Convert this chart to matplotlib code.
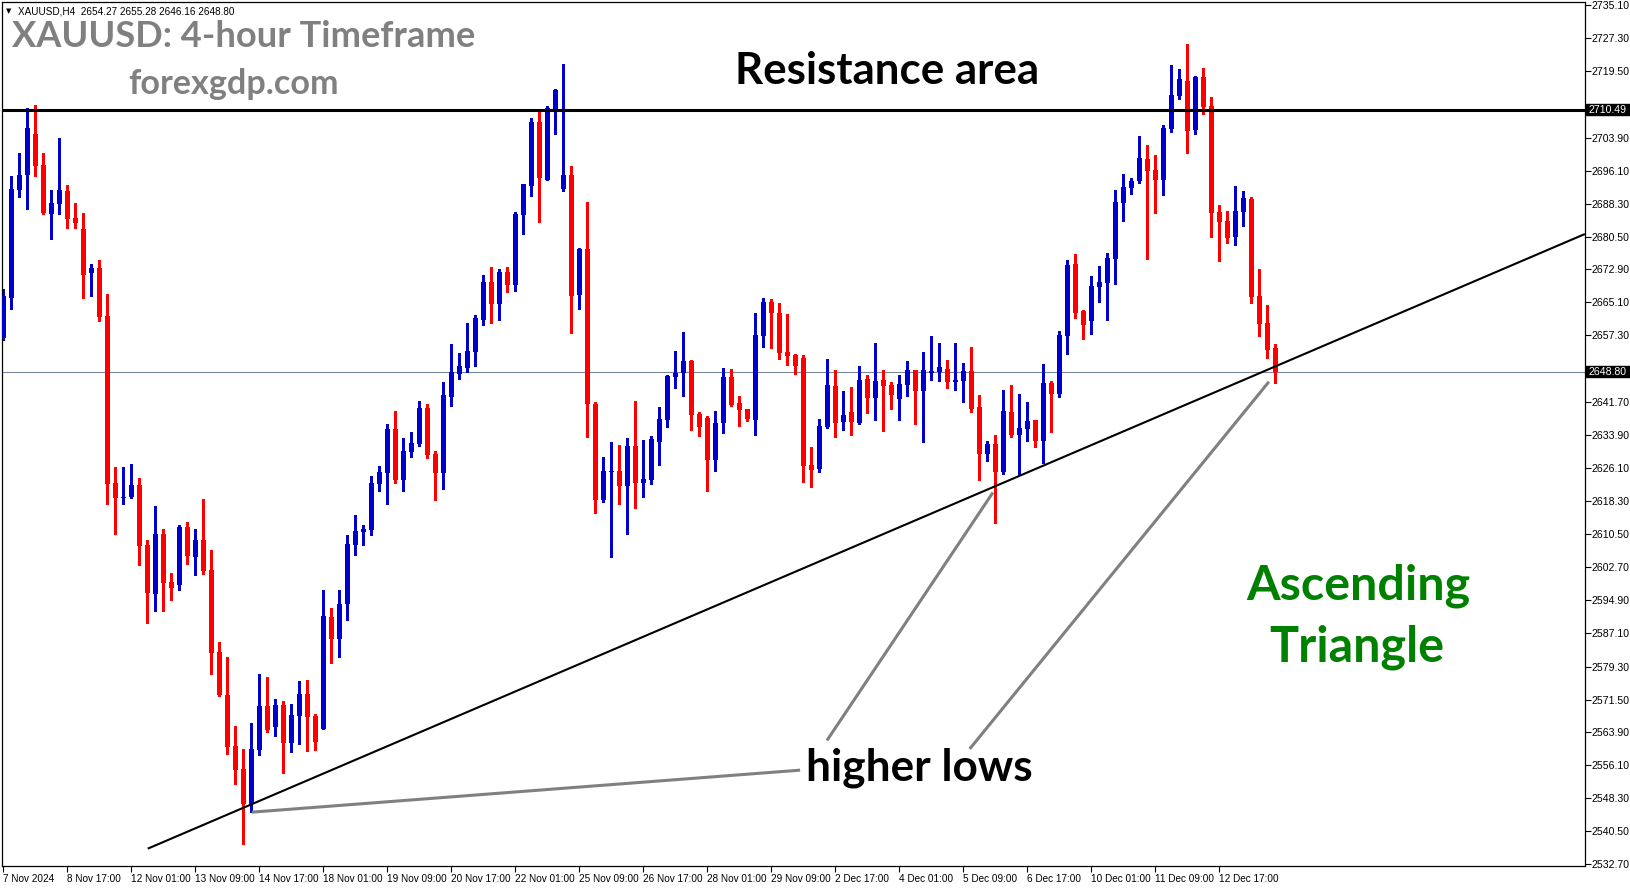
import matplotlib
matplotlib.use('Agg')
import matplotlib.pyplot as plt
import matplotlib.transforms as mtrans
from matplotlib.patches import Rectangle
import numpy as np

W, H = 1631, 888

# ---------------- data (XAUUSD H4) ----------------
opens = [2656.7, 2666.2, 2691.6, 2695.2, 2704.8, 2697.4, 2686.0, 2688.3, 2691.3, 2685.0,
         2682.4, 2671.9, 2673.2, 2661.9, 2622.5, 2618.9, 2619.3, 2622.1, 2607.9, 2596.5,
         2610.5, 2599.2, 2598.4, 2612.2, 2605.2, 2609.1, 2602.1, 2582.7, 2572.6, 2560.6,
         2555.2, 2546.9, 2559.7, 2570.0, 2565.1, 2570.3, 2561.3, 2567.7, 2572.8, 2567.7,
         2564.6, 2591.0, 2585.8, 2594.0, 2607.9, 2611.0, 2611.5, 2622.3, 2624.9, 2635.3,
         2623.3, 2629.9, 2631.7, 2640.2, 2629.4, 2624.9, 2642.8, 2648.2, 2649.6, 2653.4,
         2660.9, 2669.9, 2664.7, 2672.3, 2669.2, 2685.7, 2692.5, 2707.6, 2693.9, 2710.4,
         2691.8, 2695.1, 2666.8, 2677.7, 2641.2, 2618.5, 2625.1, 2625.4, 2621.8, 2631.3,
         2622.6, 2623.3, 2632.2, 2637.4, 2647.5, 2648.5, 2651.3, 2638.8, 2637.9, 2628.0,
         2636.7, 2647.5, 2641.4, 2639.9, 2637.4, 2657.2, 2665.2, 2662.6, 2653.4, 2652.7,
         2652.0, 2626.8, 2625.8, 2635.7, 2645.4, 2636.9, 2639.3, 2636.7, 2647.0, 2642.6,
         2646.8, 2645.6, 2642.3, 2645.6, 2649.2, 2644.2, 2648.5, 2648.7, 2649.4, 2646.3,
         2646.6, 2648.9, 2640.4, 2629.4, 2631.7, 2625.1, 2639.3, 2633.9, 2635.3, 2637.4,
         2632.4, 2646.1, 2643.5, 2657.2, 2674.1, 2663.1, 2660.7, 2668.7, 2669.7, 2675.3,
         2688.5, 2692.0, 2693.7, 2698.9, 2696.3, 2693.9, 2705.9, 2713.7, 2717.2, 2705.7,
         2718.2, 2711.4, 2686.4, 2684.3, 2680.5, 2686.4, 2689.4, 2666.6, 2660.2, 2654.27]
highs = [2668.2, 2694.9, 2700.4, 2710.8, 2711.6, 2700.3, 2691.6, 2703.8, 2692.7, 2688.5,
         2686.1, 2674.2, 2675.1, 2667.1, 2626.4, 2626.4, 2627.0, 2623.7, 2609.1, 2617.1,
         2611.7, 2601.4, 2612.7, 2613.4, 2611.7, 2618.8, 2606.8, 2585.1, 2581.6, 2565.3,
         2559.9, 2566.0, 2577.6, 2576.9, 2571.7, 2571.2, 2570.5, 2575.9, 2576.1, 2568.1,
         2597.3, 2593.1, 2597.3, 2610.3, 2615.0, 2612.7, 2624.2, 2626.6, 2636.4, 2639.5,
         2633.2, 2634.6, 2641.9, 2641.2, 2630.1, 2646.3, 2655.3, 2653.2, 2660.2, 2662.1,
         2671.5, 2673.4, 2673.0, 2673.4, 2686.4, 2693.0, 2708.5, 2709.9, 2711.4, 2715.4,
         2721.3, 2697.2, 2677.9, 2688.7, 2641.6, 2628.7, 2632.2, 2631.5, 2633.2, 2641.9,
         2632.7, 2633.6, 2640.4, 2648.0, 2653.6, 2658.1, 2651.5, 2639.3, 2638.3, 2639.5,
         2649.6, 2649.4, 2643.0, 2639.9, 2662.6, 2666.1, 2665.9, 2664.9, 2662.4, 2652.9,
         2652.7, 2631.0, 2637.6, 2651.8, 2649.2, 2644.2, 2645.2, 2650.1, 2648.0, 2655.5,
         2649.2, 2646.3, 2648.0, 2651.3, 2649.2, 2653.4, 2657.2, 2655.5, 2651.5, 2655.5,
         2650.8, 2654.6, 2643.3, 2632.4, 2633.9, 2644.5, 2645.6, 2643.5, 2641.6, 2637.4,
         2650.6, 2646.6, 2658.4, 2675.1, 2676.5, 2663.3, 2671.3, 2673.7, 2676.7, 2691.6,
         2695.3, 2694.4, 2704.3, 2702.2, 2699.8, 2706.9, 2721.0, 2720.1, 2726.0, 2718.4,
         2720.3, 2713.5, 2688.0, 2686.6, 2692.5, 2691.3, 2689.9, 2673.0, 2664.5, 2655.28]
lows = [2656.2, 2663.6, 2689.8, 2687.2, 2694.9, 2685.8, 2680.1, 2686.0, 2682.7, 2682.7,
        2666.2, 2666.7, 2660.8, 2617.7, 2610.6, 2617.7, 2619.0, 2603.3, 2589.6, 2592.5,
        2592.5, 2595.1, 2597.4, 2603.5, 2600.9, 2601.1, 2577.6, 2572.4, 2558.7, 2551.6,
        2537.5, 2545.1, 2558.5, 2563.9, 2563.0, 2554.2, 2559.2, 2561.1, 2559.4, 2559.7,
        2564.6, 2580.2, 2581.6, 2590.3, 2605.6, 2607.9, 2610.3, 2620.7, 2617.6, 2622.5,
        2620.7, 2628.7, 2631.3, 2628.4, 2618.5, 2621.2, 2640.7, 2647.0, 2648.7, 2650.1,
        2659.8, 2660.2, 2660.9, 2667.5, 2667.8, 2681.2, 2690.2, 2684.0, 2693.9, 2704.8,
        2691.3, 2657.9, 2663.5, 2633.4, 2615.5, 2618.1, 2605.1, 2617.6, 2610.5, 2616.7,
        2619.3, 2622.4, 2626.8, 2635.7, 2644.9, 2643.0, 2635.0, 2633.6, 2620.7, 2625.4,
        2634.3, 2640.7, 2635.9, 2637.1, 2633.9, 2654.6, 2654.4, 2651.8, 2650.3, 2648.2,
        2622.8, 2621.6, 2625.1, 2635.5, 2633.4, 2635.0, 2633.9, 2636.4, 2639.0, 2637.4,
        2634.8, 2640.0, 2637.4, 2643.0, 2636.4, 2632.2, 2646.8, 2646.6, 2644.9, 2644.5,
        2641.6, 2639.3, 2623.3, 2627.7, 2613.1, 2624.6, 2633.4, 2624.4, 2632.4, 2631.0,
        2627.3, 2634.6, 2642.8, 2652.9, 2661.4, 2656.5, 2657.6, 2665.2, 2660.9, 2669.4,
        2684.3, 2690.6, 2693.2, 2675.3, 2686.1, 2690.4, 2705.2, 2713.0, 2700.3, 2704.8,
        2709.5, 2680.5, 2674.8, 2679.1, 2678.6, 2683.1, 2664.9, 2657.2, 2652.0, 2646.16]
closes = [2666.6, 2691.8, 2695.1, 2706.2, 2697.2, 2686.1, 2688.5, 2691.6, 2684.8, 2683.9,
          2671.6, 2673.3, 2661.7, 2622.4, 2618.9, 2619.3, 2622.0, 2607.8, 2596.7, 2610.5,
          2599.1, 2597.9, 2612.2, 2605.4, 2609.1, 2601.9, 2582.6, 2572.6, 2560.4, 2554.9,
          2546.9, 2559.9, 2570.0, 2564.4, 2570.3, 2561.3, 2567.9, 2572.8, 2567.4, 2561.5,
          2591.2, 2585.8, 2594.0, 2608.2, 2611.2, 2611.7, 2622.5, 2625.1, 2635.3, 2623.3,
          2630.1, 2632.0, 2640.2, 2629.1, 2624.9, 2643.3, 2648.7, 2650.1, 2653.6, 2661.4,
          2669.9, 2664.7, 2672.3, 2669.2, 2685.9, 2693.0, 2707.6, 2694.4, 2710.9, 2715.1,
          2695.1, 2666.6, 2677.7, 2641.2, 2618.5, 2625.4, 2625.4, 2621.8, 2631.3, 2622.6,
          2623.5, 2632.9, 2637.6, 2647.8, 2648.5, 2651.3, 2638.6, 2635.7, 2628.0, 2636.7,
          2647.5, 2640.9, 2639.7, 2637.6, 2657.4, 2665.2, 2662.6, 2653.2, 2652.5, 2650.1,
          2626.6, 2625.6, 2635.9, 2645.6, 2636.7, 2638.6, 2636.9, 2646.8, 2642.6, 2646.6,
          2645.4, 2643.3, 2645.9, 2649.2, 2644.2, 2649.2, 2648.9, 2649.9, 2646.3, 2646.8,
          2648.9, 2640.0, 2629.4, 2631.7, 2625.1, 2639.5, 2633.9, 2635.5, 2637.1, 2632.4,
          2646.1, 2643.5, 2657.4, 2673.9, 2662.6, 2659.8, 2669.0, 2669.9, 2675.5, 2688.7,
          2692.3, 2693.7, 2699.1, 2696.0, 2693.9, 2706.2, 2713.9, 2717.7, 2705.5, 2718.2,
          2711.1, 2686.1, 2684.0, 2680.3, 2686.6, 2689.7, 2666.4, 2660.0, 2653.9, 2648.80]

xtick_labels = ['7 Nov 2024', '8 Nov 17:00', '12 Nov 01:00', '13 Nov 09:00', '14 Nov 17:00',
                '18 Nov 01:00', '19 Nov 09:00', '20 Nov 17:00', '22 Nov 01:00', '25 Nov 09:00',
                '26 Nov 17:00', '28 Nov 01:00', '29 Nov 09:00', '2 Dec 17:00', '4 Dec 01:00',
                '5 Dec 09:00', '6 Dec 17:00', '10 Dec 01:00', '11 Dec 09:00', '12 Dec 17:00']
xtick_pos = [8 * i for i in range(len(xtick_labels))]

ytick_vals = [2735.10, 2727.30, 2719.50, 2711.70, 2703.90, 2696.10, 2688.30, 2680.50, 2672.90,
              2665.10, 2657.30, 2649.50, 2641.70, 2633.90, 2626.10, 2618.30, 2610.50, 2602.70,
              2594.90, 2587.10, 2579.30, 2571.50, 2563.90, 2556.10, 2548.30, 2540.50, 2532.70]
# tick labels hidden behind the price boxes in the reference
ytick_hidden = [2711.70, 2649.50]

resistance = 2710.49
last_price = 2648.80

trend_x = [18.05, 197.7]
trend_y = [2536.4, 2681.2]

pointer_x = [[31.05, 99.6], [102.96, 123.7], [120.8, 158.2]]
pointer_y = [[2545.0, 2554.9], [2561.9, 2620.3], [2559.9, 2646.4]]

# ---------------- figure ----------------
fig = plt.figure(figsize=(W / 100, H / 100), dpi=100)
fig.patch.set_facecolor('white')
ax_l, ax_r, ax_t, ax_b = 2, 1585, 1.5, 866
ax = fig.add_axes([ax_l / W, 1 - ax_b / H, (ax_r - ax_l) / W, (ax_b - ax_t) / H])
ax.set_facecolor('white')

o = np.array(opens); h = np.array(highs); l = np.array(lows); c = np.array(closes)
x = np.arange(len(o))
up = c >= o
cols = np.where(up, '#0000cc', '#ff0000')

ax.vlines(x, l, h, colors=cols, linewidth=0.75, antialiased=False, zorder=2)
bottom = np.minimum(o, c)
height = np.maximum(np.abs(c - o), 0.3)
ax.bar(x, height, bottom=bottom, width=0.62, color=cols, edgecolor=cols, linewidth=0,
       antialiased=False, zorder=3)

ax.axhline(resistance, color='black', linewidth=2.2, zorder=4)
ax.axhline(last_price, color='#778899', linewidth=0.8, zorder=1)
ax.plot(trend_x, trend_y, color='black', linewidth=1.5, zorder=4, solid_capstyle='butt')
for px, py in zip(pointer_x, pointer_y):
    ax.plot(px, py, color='#808080', linewidth=2.2, zorder=4, solid_capstyle='butt')

ymin = 2736.325 - 0.23557 * ax_b
ymax = 2736.325 - 0.23557 * ax_t
ax.set_ylim(ymin, ymax)
ax.set_xlim((ax_l - 3.3) / 8, (ax_r - 3.3) / 8)

ax.yaxis.tick_right()
ax.set_yticks(ytick_vals)
ax.set_yticklabels(['' if v in ytick_hidden else '%.2f' % v for v in ytick_vals])
ax.set_xticks(xtick_pos)
ax.set_xticklabels(xtick_labels, ha='left')
ax.tick_params(axis='y', which='both', direction='out', length=4, width=0.8, pad=1,
               labelsize=7.6, labelfontfamily='Liberation Sans', colors='black')
ax.tick_params(axis='x', which='both', direction='out', length=4, width=0.8, pad=2,
               labelsize=7.2, labelfontfamily='Liberation Sans', colors='black')
for s in ax.spines.values():
    s.set_color('black')
    s.set_linewidth(0.9)

# price boxes on the right axis
bt = mtrans.blended_transform_factory(fig.transFigure, ax.transData)
box_h = 11 * 0.23557
for val in [resistance, last_price]:
    fig.add_artist(Rectangle((1586 / W, val - box_h / 2), 45 / W, box_h, transform=bt,
                             facecolor='black', edgecolor='black', clip_on=False, zorder=5))
    fig.text(1589 / W, val, '%.2f' % val, transform=bt, color='white', fontsize=7.6,
             family='Liberation Sans', va='center', ha='left', zorder=6)

# ---------------- texts ----------------
r = fig.canvas.get_renderer()


def put(s, x0, x1, yb, color, family='Lato', weight='bold'):
    t = fig.text(x0 / W, 1 - yb / H, s, fontsize=20, fontweight=weight, family=family,
                 color=color, ha='left', va='baseline', zorder=7)
    bb = t.get_window_extent(renderer=r)
    t.set_fontsize(20 * (x1 - x0) / bb.width)
    bb = t.get_window_extent(renderer=r)
    t.set_x((x0 + (x0 - bb.x0)) / W)
    return t


fig.text(6 / W, 1 - 13 / H, '\u25bc', fontsize=5, family='DejaVu Sans', color='black',
         ha='left', va='baseline')
fig.text(18 / W, 1 - 14 / H, 'XAUUSD,H4  2654.27 2655.28 2646.16 2648.80', fontsize=7.2,
         family='Liberation Sans', color='black', ha='left', va='baseline')

put('XAUUSD: 4-hour Timeframe', 12.5, 475, 47, '#808080')
put('forexgdp.com', 128, 338, 94, '#808080')
put('Resistance area', 735, 1039, 84, 'black')
put('higher lows', 806, 1032, 780, 'black')
put('Ascending', 1246, 1470, 599, '#008000')
put('Triangle', 1269, 1444, 661, '#008000')

fig.savefig('out.png', dpi=100, facecolor='white')
